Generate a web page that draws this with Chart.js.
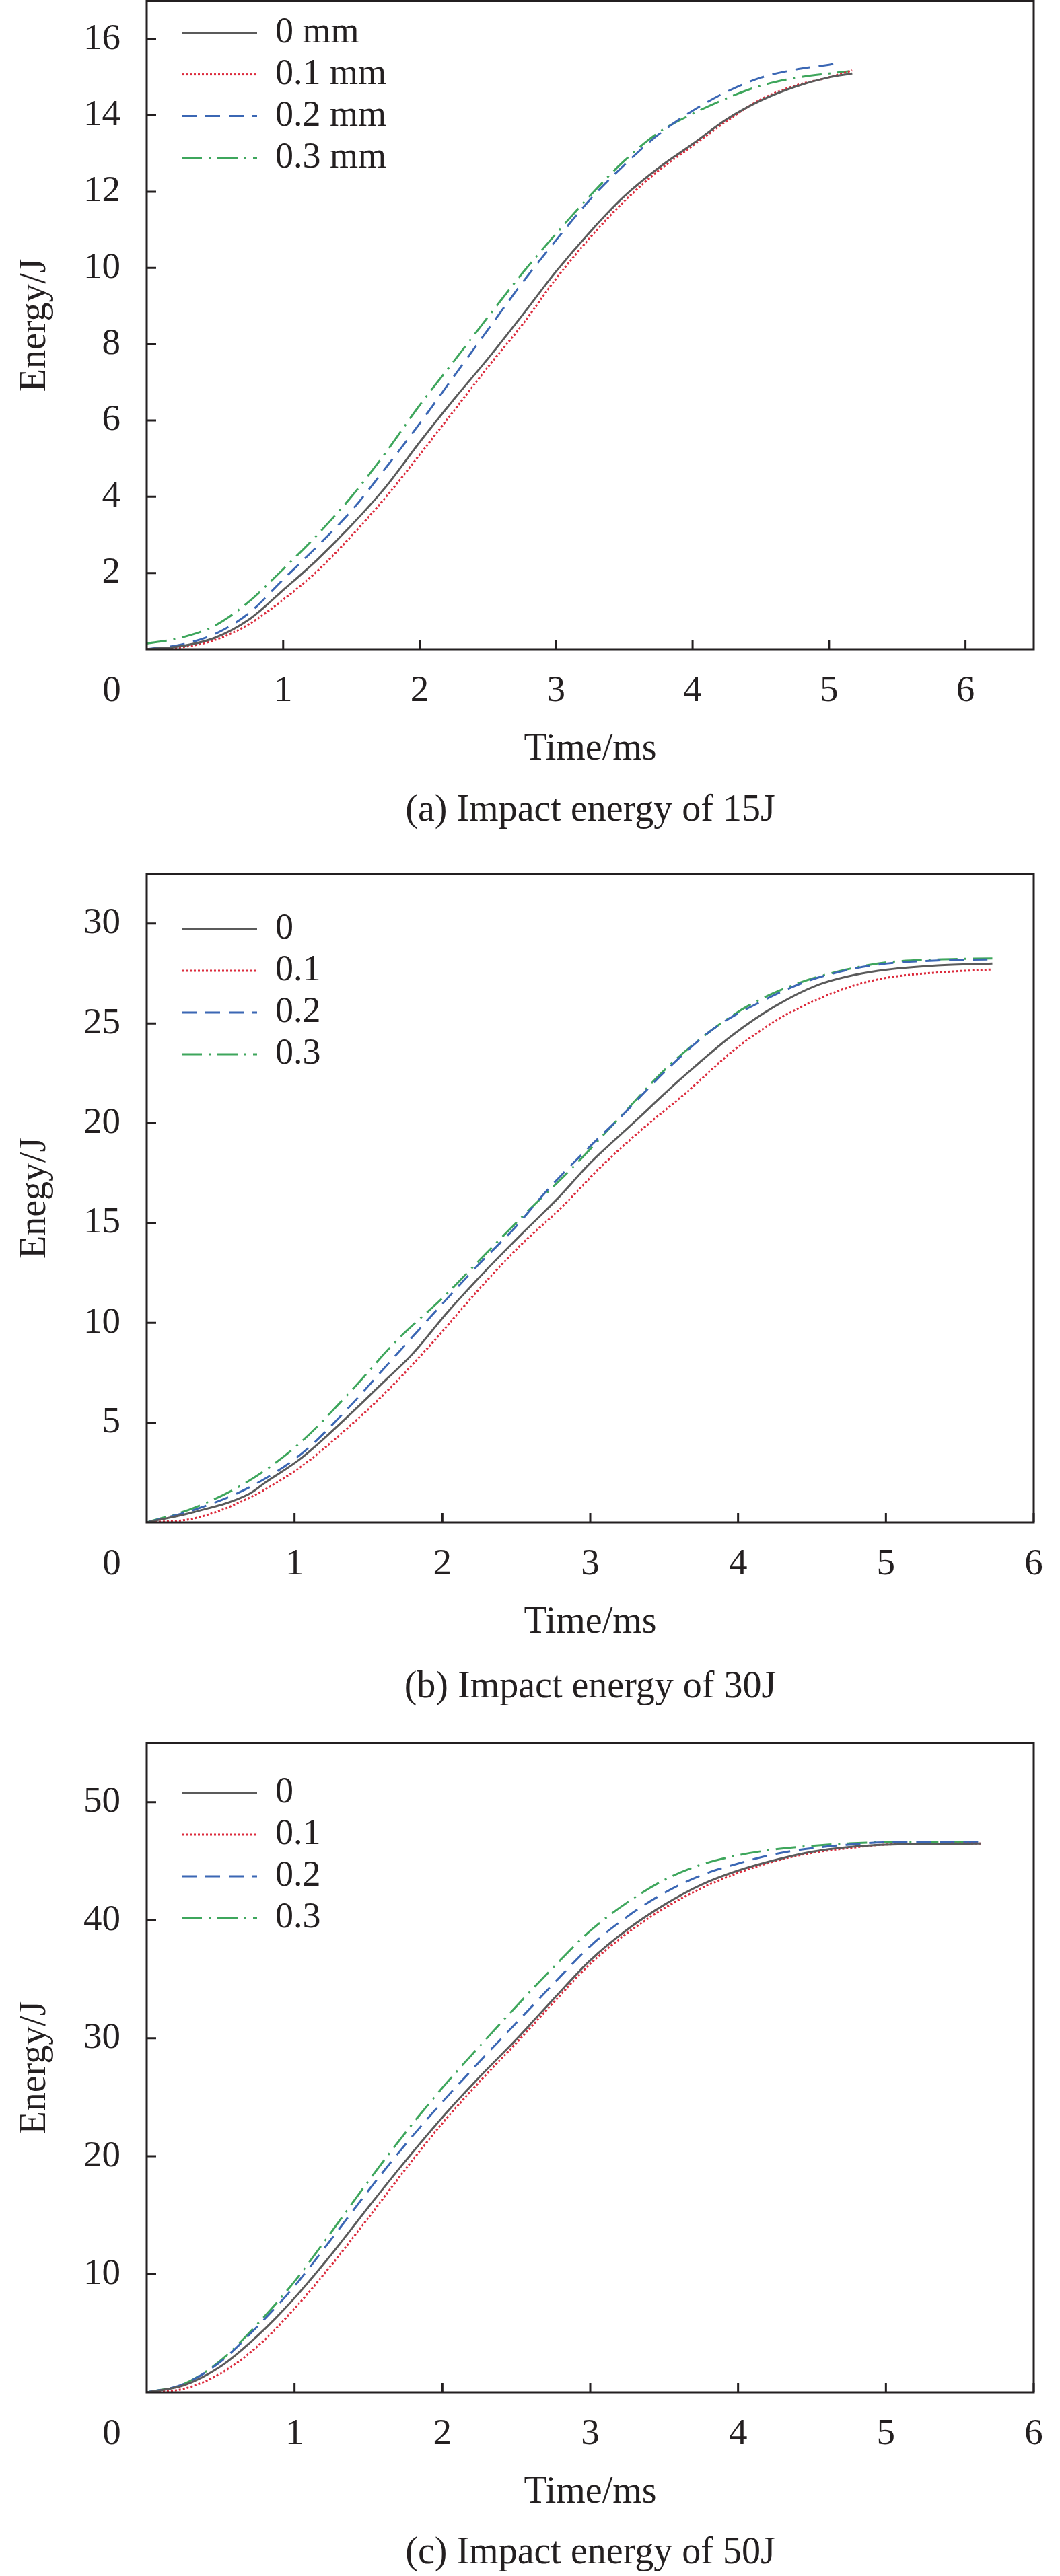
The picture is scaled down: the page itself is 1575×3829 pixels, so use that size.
<!DOCTYPE html>
<html><head><meta charset="utf-8">
<script src="https://cdn.jsdelivr.net/npm/chart.js@4.4.1/dist/chart.umd.min.js"></script>
<style>
html,body{margin:0;padding:0;background:#fff;}
body{width:1575px;height:3829px;position:relative;overflow:hidden;}
canvas{position:absolute;left:0;}
</style></head><body>
<canvas id="ca" width="1575" height="1250" style="top:0px;width:1575px;height:1250px"></canvas>
<canvas id="cb" width="1575" height="1300" style="top:1250px;width:1575px;height:1300px"></canvas>
<canvas id="cc" width="1575" height="1279" style="top:2550px;width:1575px;height:1279px"></canvas>
<script>
// ---------- data (time in ms, energy in J) ----------
const legendA = ['0 mm', '0.1 mm', '0.2 mm', '0.3 mm'];
const legendBC = ['0', '0.1', '0.2', '0.3'];
const xTicksA = [0, 1, 2, 3, 4, 5, 6];
const xTicksBC = [0, 1, 2, 3, 4, 5, 6];

// (a) 15 J
const a0T = [0,0.25,0.5,0.75,1,1.25,1.5,1.75,2,2.25,2.5,2.75,3,3.25,3.5,3.75,4,4.25,4.5,4.75,5,5.17];
const a0E = [0,0.08,0.3,0.78,1.55,2.35,3.25,4.25,5.43,6.55,7.62,8.75,9.91,10.95,11.88,12.62,13.25,13.9,14.39,14.75,15.0,15.1];
const a1T = [0,0.25,0.5,0.75,1,1.25,1.5,1.75,2,2.25,2.5,2.75,3,3.25,3.5,3.75,4,4.25,4.5,4.75,5,5.17];
const a1E = [0,0.05,0.24,0.66,1.3,2.05,2.97,3.98,5.1,6.25,7.4,8.5,9.72,10.8,11.75,12.55,13.2,13.85,14.42,14.78,15.0,15.18];
const a2T = [0,0.25,0.5,0.75,1,1.25,1.5,1.75,2,2.25,2.5,2.75,3,3.25,3.5,3.75,4,4.25,4.5,4.75,5,5.08];
const a2E = [0,0.12,0.4,0.95,1.83,2.7,3.63,4.75,5.92,7.15,8.38,9.6,10.73,11.8,12.7,13.5,14.12,14.62,14.99,15.2,15.33,15.38];
const a3T = [0,0.25,0.5,0.75,1,1.25,1.5,1.75,2,2.25,2.5,2.75,3,3.25,3.5,3.75,4,4.25,4.5,4.75,5,5.15];
const a3E = [0.15,0.3,0.62,1.25,2.1,3.0,4.0,5.15,6.4,7.55,8.71,9.85,10.9,11.9,12.81,13.55,14.04,14.45,14.78,14.98,15.1,15.16];

// (b) 30 J
const b0T = [0,0.32,0.69,0.8,1.05,1.34,1.6,1.79,2.04,2.3,2.55,2.78,3.0,3.29,3.61,3.96,4.25,4.53,4.79,5.01,5.35,5.72];
const b0E = [0,0.52,1.42,1.99,3.25,5.17,7.02,8.38,10.58,12.67,14.55,16.23,18.01,20.0,22.2,24.4,25.86,26.9,27.43,27.69,27.9,28.0];
const b1T = [0,0.32,0.7,1.05,1.34,1.6,1.92,2.24,2.52,2.81,3.07,3.35,3.64,3.99,4.28,4.53,4.79,5.01,5.35,5.72];
const b1E = [0,0.2,1.26,2.83,4.61,6.39,8.9,11.62,13.82,15.81,17.8,19.69,21.47,23.77,25.24,26.18,26.91,27.29,27.55,27.7];
const b2T = [0,0.32,0.7,1.05,1.34,1.66,1.98,2.24,2.49,2.71,3.0,3.22,3.51,3.83,4.15,4.47,4.79,5.01,5.35,5.72];
const b2E = [0,0.63,1.78,3.46,5.55,8.17,10.79,12.88,14.76,16.65,18.85,20.42,22.62,24.71,26.07,27.12,27.75,28.0,28.15,28.2];
const b3T = [0,0.32,0.67,1.02,1.37,1.69,2.01,2.3,2.55,2.87,3.19,3.51,3.83,4.09,4.41,4.73,5.01,5.35,5.72];
const b3E = [0,0.73,1.99,3.87,6.49,9.11,11.31,13.51,15.39,17.7,20.21,22.72,24.71,25.97,27.02,27.69,28.06,28.2,28.25];

// (c) 50 J
const cT = [0,0.25,0.5,0.75,1,1.25,1.5,1.75,2,2.25,2.5,2.75,3,3.25,3.5,3.75,4,4.25,4.5,4.75,5,5.64];
const c0E = [0,0.6,2.2,4.8,8.0,11.7,15.7,19.6,23.3,26.7,29.9,33.3,36.6,39.2,41.3,43.0,44.2,45.1,45.8,46.2,46.4,46.5];
const c1E = [0,0.3,1.6,3.9,7.1,10.8,14.8,18.9,22.8,26.3,29.6,33.0,36.3,38.9,41.0,42.7,44.0,45.0,45.7,46.1,46.4,46.5];
const c2E = [0,0.7,2.6,5.6,9.0,13.0,17.1,21.0,24.6,28.0,31.3,34.6,37.8,40.3,42.3,43.8,44.8,45.6,46.1,46.4,46.6,46.6];
const c3E = [0,0.7,2.7,5.8,9.4,13.6,17.9,22.0,25.8,29.3,32.7,36.0,39.1,41.5,43.4,44.7,45.5,46.0,46.3,46.5,46.6,46.6];

// ---------- styles ----------
const FONT = '"Liberation Serif", "Times New Roman", serif';
const INK = '#231f20';
const seriesColors = ['#5b5b5b', '#dc2b3c', '#3b67b4', '#3ea65c'];
const seriesDash = [[], [3, 3], [22, 13], [30, 10, 3, 10]];

Chart.defaults.font.family = FONT;
Chart.defaults.color = INK;

function pts(t, e) { return t.map((v, i) => ({ x: v, y: e[i] })); }

function legendLabels(chart) {
  const items = Chart.defaults.plugins.legend.labels.generateLabels(chart);
  return items.map(it => {
    const ds = chart.data.datasets[it.datasetIndex];
    return Object.assign(it, {
      lineDash: ds.borderDash, lineWidth: 3, lineCap: 'butt',
      strokeStyle: ds.borderColor, fillStyle: ds.borderColor, pointStyle: 'line'
    });
  });
}

const framePlugin = {
  id: 'frame',
  afterLayout(chart, args, opts) {
    const lg = chart.legend;
    if (lg) {
      lg.left = opts.legendLeft;
      lg.top = opts.legendTop;
      lg.right = chart.chartArea.right;
      lg.bottom = chart.chartArea.bottom;
    }
  },
  afterDraw(chart, args, opts) {
    const { ctx, chartArea: a, scales: { x, y } } = chart;
    ctx.save();
    ctx.strokeStyle = INK;
    ctx.lineWidth = 3;
    ctx.setLineDash([]);
    ctx.strokeRect(a.left, a.top, a.right - a.left, a.bottom - a.top);
    ctx.beginPath();
    y.ticks.forEach(t => {
      if (t.value > 0) { const p = y.getPixelForValue(t.value); ctx.moveTo(a.left, p); ctx.lineTo(a.left + 14, p); }
    });
    x.ticks.forEach(t => {
      if (t.value > 0) { const p = x.getPixelForValue(t.value); ctx.moveTo(p, a.bottom); ctx.lineTo(p, a.bottom - 14); }
    });
    ctx.stroke();
    ctx.fillStyle = INK;
    ctx.font = '55px ' + FONT;
    ctx.textAlign = 'center';
    ctx.textBaseline = 'middle';
    ctx.fillText(String(opts.zeroLabel), a.left - 52, a.bottom + 63);
    ctx.restore();
  }
};

function makeChart(cfg) {
  const datasets = cfg.series.map((s, i) => ({
    label: cfg.legend[i],
    data: pts(s[0], s[1]),
    borderColor: seriesColors[i],
    backgroundColor: seriesColors[i],
    borderWidth: 3,
    borderDash: seriesDash[i],
    pointRadius: 0,
    fill: false,
    cubicInterpolationMode: 'monotone'
  }));
  return new Chart(document.getElementById(cfg.id), {
    type: 'line',
    data: { datasets },
    plugins: [framePlugin],
    options: {
      responsive: false,
      maintainAspectRatio: false,
      animation: false,
      events: [],
      layout: { padding: { left: 0, right: 39, top: cfg.plotTop, bottom: cfg.padBottom } },
      scales: {
        x: {
          type: 'linear', min: 0, max: cfg.xMax,
          grid: { display: false, drawTicks: false },
          border: { display: false },
          ticks: {
            stepSize: 1, includeBounds: false, padding: 30, maxRotation: 0, autoSkip: false,
            font: { size: 55 }, color: INK,
            callback: v => (v === cfg.xTicks[0] ? '' : String(v))
          },
          title: { display: true, text: 'Time/ms', color: INK, font: { size: 56, lineHeight: 1.0 }, padding: { top: 0, bottom: 13 } },
          afterFit: s => { s.height = 190; s.paddingLeft = 0; s.paddingRight = 0; }
        },
        y: {
          type: 'linear', min: 0, max: cfg.yMax,
          grid: { display: false, drawTicks: false },
          border: { display: false },
          ticks: {
            stepSize: cfg.yStep, includeBounds: false, padding: 39,
            font: { size: 55 }, color: INK,
            callback: v => (v === 0 ? '' : String(v))
          },
          title: { display: true, text: cfg.yTitle, color: INK, font: { size: 56, lineHeight: 1.0 }, padding: { top: 24, bottom: 0 } },
          afterFit: s => { s.width = 218; s.paddingTop = 0; s.paddingBottom = 0; }
        }
      },
      plugins: {
        legend: {
          position: 'chartArea', align: 'start',
          labels: {
            usePointStyle: true, pointStyle: 'line', pointStyleWidth: 112,
            font: { size: 54 }, padding: 8, color: INK,
            generateLabels: legendLabels
          }
        },
        title: {
          display: true, position: 'bottom', fullSize: false, text: cfg.caption, color: INK,
          font: { size: 56, weight: 'normal', lineHeight: 1.0 }, padding: { top: cfg.capTop, bottom: 0 }
        },
        tooltip: { enabled: false },
        frame: { legendLeft: 262, legendTop: cfg.legendTop, zeroLabel: cfg.xTicks[0] }
      }
    }
  });
}

makeChart({
  id: 'ca', plotTop: 1.5, padBottom: 17, capTop: 22, xMax: 6.5, yMax: 17, yStep: 2,
  yTitle: 'Energy/J', caption: '(a) Impact energy of 15J', legend: legendA, xTicks: xTicksA,
  legendTop: 13.6,
  series: [[a0T, a0E], [a1T, a1E], [a2T, a2E], [a3T, a3E]]
});
makeChart({
  id: 'cb', plotTop: 48.6, padBottom: 14, capTop: 27, xMax: 6, yMax: 32.5, yStep: 5,
  yTitle: 'Enegy/J', caption: '(b) Impact energy of 30J', legend: legendBC, xTicks: xTicksBC,
  legendTop: 96,
  series: [[b0T, b0E], [b1T, b1E], [b2T, b2E], [b3T, b3E]]
});
makeChart({
  id: 'cc', plotTop: 41, padBottom: 6, capTop: 21, xMax: 6, yMax: 55, yStep: 10,
  yTitle: 'Energy/J', caption: '(c) Impact energy of 50J', legend: legendBC, xTicks: xTicksBC,
  legendTop: 80,
  series: [[cT, c0E], [cT, c1E], [cT, c2E], [cT, c3E]]
});
</script></body></html>
